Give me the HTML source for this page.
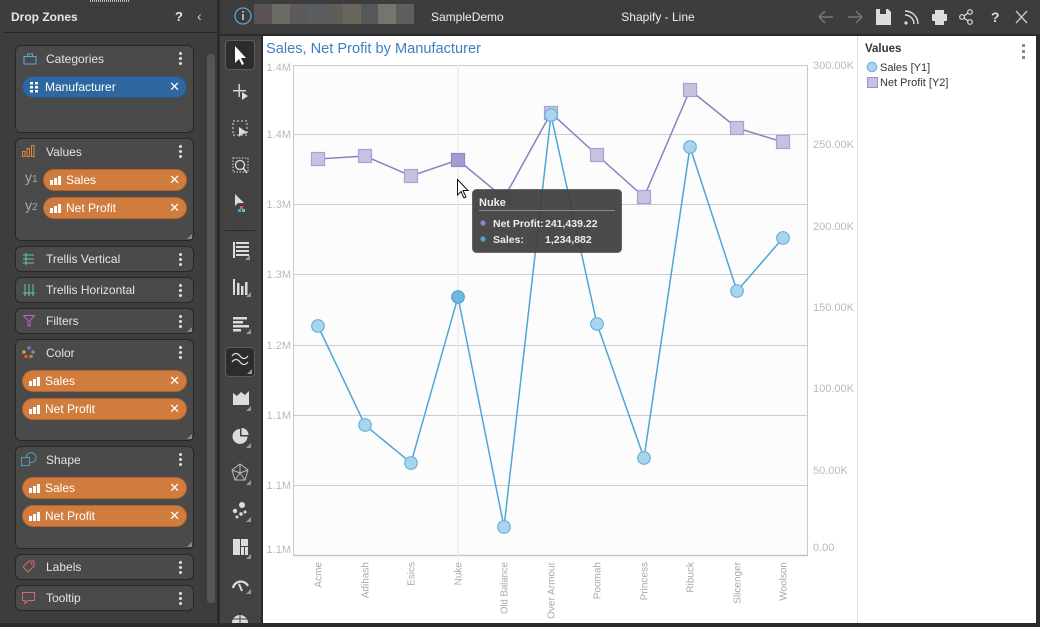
<!DOCTYPE html>
<html><head><meta charset="utf-8">
<style>
*{margin:0;padding:0;box-sizing:border-box}
body{width:1040px;height:627px;background:#2b2b2b;position:relative;overflow:hidden;font-family:"Liberation Sans",sans-serif}
.a{position:absolute}
.zone{position:absolute;left:15px;width:179px;background:#4a4a4a;border:1px solid #272727;border-radius:6px}
.zt{position:absolute;left:30px;font-size:12px;color:#e4e4e4;line-height:14px}
.keb{position:absolute;right:11px;width:3px;height:15px;background:radial-gradient(circle,#dcdcdc 1.4px,transparent 1.6px) 0 0/3px 5px repeat-y}
.pill{position:absolute;height:22px;border-radius:11px;background:#d17c3f;border:1px solid #b5622a;color:#fff;font-size:12px;line-height:20px}
.pill.blue{background:#2f68a0;border-color:#245586}
.pill .t{position:absolute;left:22px}
.pill .x{position:absolute;right:6px;top:0;font-size:13px}
.bars{position:absolute;left:6px;top:6px;width:11px;height:9px}
.bars i{position:absolute;bottom:0;width:3px;background:#fff}
.corner{position:absolute;right:1px;bottom:1px;width:0;height:0;border-left:5px solid transparent;border-bottom:5px solid #8a8a8a}
</style></head><body>

<!-- LEFT PANEL -->
<div class="a" style="left:0;top:0;width:217px;height:623px;background:#3d3d3d"></div>
<div class="a" style="left:90px;top:0;width:40px;height:2px;background:repeating-linear-gradient(90deg,#bbb 0 1px,transparent 1px 2px)"></div>
<div class="a" style="left:11px;top:10px;font-size:12px;font-weight:bold;color:#e6e6e6">Drop Zones</div>
<div class="a" style="left:175px;top:9px;font-size:13px;font-weight:bold;color:#e6e6e6">?</div>
<div class="a" style="left:197px;top:8px;font-size:14px;color:#cfcfcf">&#8249;</div>
<div class="a" style="left:3px;top:32px;width:214px;height:1px;background:#262626"></div>
<div class="a" style="left:207px;top:54px;width:8px;height:549px;background:#555;border-radius:3px"></div>

<!-- Categories -->
<div class="zone" style="top:45px;height:88px">
  <svg class="a" style="left:7px;top:7px" width="14" height="12"><rect x="1" y="3.5" width="12" height="7.5" fill="none" stroke="#5fa8d6"/><rect x="4.5" y="1" width="5" height="2.5" fill="none" stroke="#5fa8d6"/></svg>
  <div class="zt" style="top:6px">Categories</div>
  <div class="keb" style="top:5px"></div>
  <div class="pill blue" style="left:6px;top:30px;width:165px">
    <svg class="a" style="left:7px;top:5px" width="9" height="11"><g fill="#fff"><rect x="0" y="0" width="3" height="2.5"/><rect x="5" y="0" width="3" height="2.5"/><rect x="0" y="4" width="3" height="2.5"/><rect x="5" y="4" width="3" height="2.5"/><rect x="0" y="8" width="3" height="2.5"/><rect x="5" y="8" width="3" height="2.5"/></g></svg>
    <span class="t">Manufacturer</span><span class="x">✕</span></div>
</div>

<!-- Values -->
<div class="zone" style="top:138px;height:103px">
  <svg class="a" style="left:6px;top:6px" width="14" height="12"><g fill="none" stroke="#d9893f"><rect x="0.5" y="6.5" width="2.5" height="5"/><rect x="5" y="3.5" width="2.5" height="8"/><rect x="9.5" y="0.5" width="2.5" height="11"/></g></svg>
  <div class="zt" style="top:6px">Values</div>
  <div class="keb" style="top:5px"></div>
  <div class="corner"></div>
  <div class="a" style="left:9px;top:30px;font-size:14px;color:#a8a8a8">y<span style="font-size:10px">1</span></div>
  <div class="a" style="left:9px;top:58px;font-size:14px;color:#a8a8a8">y<span style="font-size:10px">2</span></div>
  <div class="pill" style="left:27px;top:30px;width:144px"><div class="bars"><i style="left:0;height:5px"></i><i style="left:4px;height:7px"></i><i style="left:8px;height:9px"></i></div><span class="t">Sales</span><span class="x">✕</span></div>
  <div class="pill" style="left:27px;top:58px;width:144px"><div class="bars"><i style="left:0;height:5px"></i><i style="left:4px;height:7px"></i><i style="left:8px;height:9px"></i></div><span class="t">Net Profit</span><span class="x">✕</span></div>
</div>

<div class="zone" style="top:246px;height:26px">
  <svg class="a" style="left:7px;top:6px" width="12" height="12"><g stroke="#5cc8b0" fill="none"><line x1="0" y1="2" x2="11" y2="2"/><line x1="0" y1="6" x2="11" y2="6"/><line x1="0" y1="10" x2="11" y2="10"/><line x1="3" y1="0" x2="3" y2="12"/></g></svg>
  <div class="zt" style="top:5px">Trellis Vertical</div><div class="keb" style="top:5px"></div></div>
<div class="zone" style="top:277px;height:26px">
  <svg class="a" style="left:7px;top:6px" width="12" height="12"><g stroke="#5cc8b0" fill="none"><line x1="2" y1="0" x2="2" y2="12"/><line x1="6" y1="0" x2="6" y2="12"/><line x1="10" y1="0" x2="10" y2="12"/><line x1="0" y1="9" x2="12" y2="9"/></g></svg>
  <div class="zt" style="top:5px">Trellis Horizontal</div><div class="keb" style="top:5px"></div></div>
<div class="zone" style="top:308px;height:26px">
  <svg class="a" style="left:7px;top:6px" width="12" height="12"><path d="M0.5 0.5h11l-4.5 5v6l-2-1.5v-4.5z" fill="none" stroke="#c35fc8"/></svg>
  <div class="zt" style="top:5px">Filters</div><div class="keb" style="top:5px"></div><div class="corner"></div></div>

<!-- Color -->
<div class="zone" style="top:339px;height:102px">
  <svg class="a" style="left:6px;top:6px" width="14" height="12"><circle cx="7" cy="2" r="1.8" fill="#8c6cc4"/><circle cx="2" cy="6" r="1.8" fill="#d8a03c"/><circle cx="11" cy="6" r="1.8" fill="#4aa3d3"/><circle cx="4" cy="10.5" r="1.8" fill="#d85a4a"/><circle cx="9" cy="10.5" r="1.8" fill="#d17c3f"/></svg>
  <div class="zt" style="top:6px">Color</div><div class="keb" style="top:5px"></div><div class="corner"></div>
  <div class="pill" style="left:6px;top:30px;width:165px"><div class="bars"><i style="left:0;height:5px"></i><i style="left:4px;height:7px"></i><i style="left:8px;height:9px"></i></div><span class="t">Sales</span><span class="x">✕</span></div>
  <div class="pill" style="left:6px;top:58px;width:165px"><div class="bars"><i style="left:0;height:5px"></i><i style="left:4px;height:7px"></i><i style="left:8px;height:9px"></i></div><span class="t">Net Profit</span><span class="x">✕</span></div>
</div>

<!-- Shape -->
<div class="zone" style="top:446px;height:103px">
  <svg class="a" style="left:5px;top:5px" width="16" height="15"><rect x="0.5" y="5.5" width="8" height="8" fill="none" stroke="#4fa0b0"/><path d="M5 5.5 a5 5 0 1 1 4 5" fill="none" stroke="#4fa0b0"/></svg>
  <div class="zt" style="top:6px">Shape</div><div class="keb" style="top:5px"></div><div class="corner"></div>
  <div class="pill" style="left:6px;top:30px;width:165px"><div class="bars"><i style="left:0;height:5px"></i><i style="left:4px;height:7px"></i><i style="left:8px;height:9px"></i></div><span class="t">Sales</span><span class="x">✕</span></div>
  <div class="pill" style="left:6px;top:58px;width:165px"><div class="bars"><i style="left:0;height:5px"></i><i style="left:4px;height:7px"></i><i style="left:8px;height:9px"></i></div><span class="t">Net Profit</span><span class="x">✕</span></div>
</div>

<div class="zone" style="top:554px;height:26px">
  <svg class="a" style="left:6px;top:5px" width="14" height="14"><path d="M1 7 L7 1 H12 V6 L6 12 Z" fill="none" stroke="#d86a6a"/><circle cx="9.5" cy="3.5" r="1" fill="#d86a6a"/></svg>
  <div class="zt" style="top:5px">Labels</div><div class="keb" style="top:5px"></div></div>
<div class="zone" style="top:585px;height:26px">
  <svg class="a" style="left:6px;top:6px" width="14" height="13"><path d="M0.5 0.5 H12.5 V8.5 H6 L3 11.5 V8.5 H0.5 Z" fill="none" stroke="#d86a6a"/></svg>
  <div class="zt" style="top:5px">Tooltip</div><div class="keb" style="top:5px"></div></div>

<!-- TOP BAR -->
<div class="a" style="left:220px;top:0;width:820px;height:34px;background:#3d3d3d"></div>
<svg class="a" style="left:233px;top:6px" width="20" height="20"><circle cx="10" cy="10" r="8" fill="none" stroke="#5fa3d4" stroke-width="1.3"/><rect x="9.3" y="8" width="1.4" height="6" fill="#ddd"/><rect x="9.3" y="5" width="1.4" height="1.6" fill="#ddd"/></svg>
<div class="a" style="left:254px;top:4px;width:160px;height:20px;display:flex">
  <div style="flex:1;background:#5a5255"></div><div style="flex:1;background:#6a6b65"></div><div style="flex:1;background:#5d585c"></div><div style="flex:1;background:#585d60"></div><div style="flex:1;background:#5d5e57"></div><div style="flex:1;background:#6b665b"></div><div style="flex:1;background:#555858"></div><div style="flex:1;background:#74756c"></div><div style="flex:1;background:#5e5e5e"></div>
</div>
<div class="a" style="left:431px;top:10px;font-size:12px;color:#eee">SampleDemo</div>
<div class="a" style="left:620px;top:10px;width:76px;text-align:center;font-size:12px;color:#eee">Shapify - Line</div>
<svg class="a" style="left:815px;top:6px" width="222" height="22">
  <g stroke="#777" stroke-width="1.5" fill="none"><path d="M4 11 H18 M4 11 L10 5 M4 11 L10 17"/><path d="M33 11 H47 M47 11 L41 5 M47 11 L41 17"/></g>
  <path d="M61 3 H73 L76 6 V19 H61 Z" fill="#ddd"/><rect x="65" y="3" width="6" height="5" fill="#3d3d3d"/>
  <g fill="none" stroke="#ddd" stroke-width="1.4"><path d="M90 9 a9 9 0 0 1 9 9"/><path d="M90 5 a13 13 0 0 1 13 13"/></g><circle cx="91" cy="17" r="1.6" fill="#ddd"/>
  <rect x="120" y="4" width="9" height="4" fill="#ddd"/><rect x="117" y="8" width="15" height="7" rx="1" fill="#ddd"/><rect x="120" y="14" width="9" height="5" fill="#ddd"/>
  <g fill="none" stroke="#ddd" stroke-width="1.2"><circle cx="147" cy="11" r="2.3"/><circle cx="155" cy="6" r="2.3"/><circle cx="155" cy="16" r="2.3"/><path d="M149 10 L153 7 M149 12 L153 15"/></g>
  <text x="176" y="16" font-family="Liberation Sans" font-size="14" font-weight="bold" fill="#ddd">?</text>
  <path d="M201 5 L212 17 M212 5 L201 17" stroke="#ccc" stroke-width="1.3"/>
</svg>

<!-- TOOLBAR -->
<div class="a" style="left:220px;top:36px;width:41px;height:587px;background:#434343"></div>
<div class="a" style="left:225px;top:40px;width:30px;height:30px;background:#2c2c2c;border:1px solid #5c5c5c;border-radius:4px"></div>
<div class="a" style="left:225px;top:347px;width:30px;height:30px;background:#2c2c2c;border:1px solid #5c5c5c;border-radius:4px"></div>
<div class="a" style="left:225px;top:230px;width:30px;height:1px;background:#2a2a2a"></div>
<svg class="a" style="left:220px;top:36px" width="41" height="587">
  <g fill="#dcdcdc" stroke="none">
    <path d="M15 10 L15 27 L19 23 L22 29 L24 28 L21 22 L26 22 Z" fill="#fff"/>
    <rect x="13" y="54" width="13" height="1.4"/><rect x="18.5" y="48" width="1.4" height="13"/><path d="M22 56 L22 64 L28 60 Z"/>
    <rect x="13" y="85" width="14" height="14" fill="none" stroke="#dcdcdc" stroke-dasharray="2 2"/><path d="M19 91 L19 101 L22 98 L28 97 Z"/>
    <rect x="13" y="122" width="15" height="14" fill="none" stroke="#dcdcdc" stroke-dasharray="1.5 1.5"/><circle cx="20" cy="129" r="4.5" fill="none" stroke="#dcdcdc" stroke-width="1.3"/><path d="M23 132 L27 137" stroke="#dcdcdc" stroke-width="1.5"/>
    <path d="M15 158 L15 170 L18 167 L24 167 Z"/><rect x="20" y="170" width="3" height="3" fill="#d85a4a"/><rect x="18" y="173" width="3" height="3" fill="#4aa3d3"/><rect x="22" y="173" width="3" height="3" fill="#5cc8b0"/>
    <g><rect x="13" y="206" width="2" height="16"/><rect x="16" y="206" width="13" height="2"/><rect x="16" y="210" width="13" height="2"/><rect x="16" y="214" width="13" height="2"/><rect x="16" y="218" width="13" height="2"/></g><path d="M30 219 L30 224 L25 224 Z" fill="#999"/>
    <rect x="13" y="243" width="2" height="16"/><rect x="17" y="247" width="2.5" height="12"/><rect x="21" y="250" width="2.5" height="9"/><rect x="25" y="246" width="2.5" height="13"/><path d="M31 256 L31 261 L26 261 Z" fill="#999"/>
    <rect x="13" y="281" width="14" height="2.5"/><rect x="13" y="285" width="10" height="2.5"/><rect x="13" y="289" width="16" height="2.5"/><rect x="13" y="293" width="8" height="2.5"/><path d="M31 293 L31 298 L26 298 Z" fill="#999"/>
    <path d="M12 320 q4 -5 8 0 t8 0 M12 326 q4 -5 8 0 t8 0" fill="none" stroke="#dcdcdc" stroke-width="1.3"/><path d="M32 333 L32 338 L27 338 Z" fill="#999"/>
    <path d="M13 357 L17 360 L21 356 L25 359 L29 355 L29 369 L13 369 Z"/><path d="M31 370 L31 375 L26 375 Z" fill="#999"/>
    <path d="M20 393 A7.5 7.5 0 1 0 27.5 400.5 L20 400.5 Z"/><path d="M21.5 392 A7 7 0 0 1 28.5 399 L21.5 399 Z"/><path d="M31 407 L31 412 L26 412 Z" fill="#999"/>
    <path d="M20 428 L28 434 L25 444 L15 444 L12 434 Z M20 428 L20 437 M28 434 L20 437 M25 444 L20 437 M15 444 L20 437 M12 434 L20 437" fill="none" stroke="#bbb" stroke-width="1"/><path d="M31 444 L31 449 L26 449 Z" fill="#999"/>
    <circle cx="22" cy="469" r="3"/><circle cx="15" cy="475" r="2.2"/><circle cx="21" cy="478" r="1.8"/><circle cx="25" cy="476" r="1.5"/><circle cx="17" cy="481" r="1.5"/><path d="M31 481 L31 486 L26 486 Z" fill="#999"/>
    <rect x="13" y="503" width="7" height="16"/><rect x="21" y="503" width="7" height="7"/><rect x="21" y="511" width="3" height="8"/><rect x="25" y="511" width="3" height="8"/><path d="M31 518 L31 523 L26 523 Z" fill="#999"/>
    <path d="M13 552 A8 8 0 0 1 28 550" fill="none" stroke="#dcdcdc" stroke-width="2.2"/><path d="M19 548 L22 555" stroke="#dcdcdc" stroke-width="2"/><path d="M31 553 L31 558 L26 558 Z" fill="#999"/>
    <path d="M12 587 A8 8 0 0 1 28 587 Z"/><path d="M20 579 V587 M13 583 H27" stroke="#434343" stroke-width="1"/>
  </g>
</svg>

<!-- CHART AREA -->
<div class="a" style="left:263px;top:36px;width:773px;height:587px;background:#fff"></div>
<div class="a" style="left:857px;top:36px;width:1px;height:587px;background:#dedede"></div>

<svg class="a" style="left:0;top:0" width="1040" height="627" font-family="Liberation Sans, sans-serif">
  <text x="266" y="53" font-size="14.6" fill="#3d7fbf">Sales, Net Profit by Manufacturer</text>
  <rect x="293" y="65" width="515" height="491" fill="#fcfcfc"/>
  <g stroke="#cccccc" stroke-width="1">
    <line x1="293" y1="65.5" x2="808" y2="65.5"/>
    <line x1="293" y1="134.5" x2="808" y2="134.5"/>
    <line x1="293" y1="204.5" x2="808" y2="204.5"/>
    <line x1="293" y1="274.5" x2="808" y2="274.5"/>
    <line x1="293" y1="345.5" x2="808" y2="345.5"/>
    <line x1="293" y1="415.5" x2="808" y2="415.5"/>
    <line x1="293" y1="485.5" x2="808" y2="485.5"/>
  </g>
  <line x1="293.5" y1="65" x2="293.5" y2="556" stroke="#c8c8c8"/>
  <line x1="807.5" y1="65" x2="807.5" y2="556" stroke="#c8c8c8"/>
  <line x1="293" y1="555.5" x2="808" y2="555.5" stroke="#c4c4c4" stroke-width="1.5"/>
  <line x1="458" y1="65" x2="458" y2="562" stroke="#ececec" stroke-width="1.5"/>

  <g font-size="11" fill="#c2b8ae" text-anchor="end">
    <text x="291" y="71">1.4M</text>
    <text x="291" y="138">1.4M</text>
    <text x="291" y="208">1.3M</text>
    <text x="291" y="278">1.3M</text>
    <text x="291" y="349">1.2M</text>
    <text x="291" y="419">1.1M</text>
    <text x="291" y="489">1.1M</text>
    <text x="291" y="553">1.1M</text>
  </g>
  <g font-size="11" fill="#c2b8ae">
    <text x="813" y="69">300.00K</text>
    <text x="813" y="148">250.00K</text>
    <text x="813" y="230">200.00K</text>
    <text x="813" y="311">150.00K</text>
    <text x="813" y="392">100.00K</text>
    <text x="813" y="474">50.00K</text>
    <text x="813" y="551">0.00</text>
  </g>
  <g font-size="10" fill="#a9a9a9" text-anchor="end">
    <text transform="translate(321.5,562) rotate(-90)">Acme</text>
    <text transform="translate(368.5,562) rotate(-90)">Adihash</text>
    <text transform="translate(414.5,562) rotate(-90)">Esics</text>
    <text transform="translate(461.5,562) rotate(-90)">Nuke</text>
    <text transform="translate(507.5,562) rotate(-90)" textLength="52" lengthAdjust="spacingAndGlyphs">Old Balance</text>
    <text transform="translate(554.5,562) rotate(-90)" textLength="57" lengthAdjust="spacingAndGlyphs">Over Armour</text>
    <text transform="translate(600.5,562) rotate(-90)">Poomah</text>
    <text transform="translate(647.5,562) rotate(-90)">Princess</text>
    <text transform="translate(693.5,562) rotate(-90)">Ribuck</text>
    <text transform="translate(740.5,562) rotate(-90)">Slicenger</text>
    <text transform="translate(786.5,562) rotate(-90)">Woolson</text>
  </g>

  <!-- Net Profit -->
  <polyline points="318,159 365,156 411,176 458,160 504,198 551,113 597,155 644,197 690,90 737,128 783,142" fill="none" stroke="#8b7fc0" stroke-width="1.5"/>
  <g fill="#c9c1e2" stroke="#ab9fd4" stroke-width="1.2">
    <rect x="311.5" y="152.5" width="13" height="13"/>
    <rect x="358.5" y="149.5" width="13" height="13"/>
    <rect x="404.5" y="169.5" width="13" height="13"/>
    <rect x="451.5" y="153.5" width="13" height="13" fill="#a79ad2" stroke="#9486c8"/>
    <rect x="497.5" y="191.5" width="13" height="13"/>
    <rect x="544.5" y="106.5" width="13" height="13"/>
    <rect x="590.5" y="148.5" width="13" height="13"/>
    <rect x="637.5" y="190.5" width="13" height="13"/>
    <rect x="683.5" y="83.5" width="13" height="13"/>
    <rect x="730.5" y="121.5" width="13" height="13"/>
    <rect x="776.5" y="135.5" width="13" height="13"/>
  </g>
  <!-- Sales -->
  <polyline points="318,326 365,425 411,463 458,297 504,527 551,115 597,324 644,458 690,147 737,291 783,238" fill="none" stroke="#4ea6d6" stroke-width="1.5"/>
  <g fill="#a9d4ee" stroke="#68b2dc" stroke-width="1.2">
    <circle cx="318" cy="326" r="6.3"/>
    <circle cx="365" cy="425" r="6.3"/>
    <circle cx="411" cy="463" r="6.3"/>
    <circle cx="458" cy="297" r="6.3" fill="#6fb6e0" stroke="#4ea6d6"/>
    <circle cx="504" cy="527" r="6.3"/>
    <circle cx="551" cy="115" r="6.3"/>
    <circle cx="597" cy="324" r="6.3"/>
    <circle cx="644" cy="458" r="6.3"/>
    <circle cx="690" cy="147" r="6.3"/>
    <circle cx="737" cy="291" r="6.3"/>
    <circle cx="783" cy="238" r="6.3"/>
  </g>

  <!-- Tooltip -->
  <rect x="472.5" y="189.5" width="149" height="63" rx="4" fill="#3d3d3d" fill-opacity="0.93" stroke="#555" stroke-width="0.8"/>
  <text x="479" y="206" font-size="11" font-weight="bold" fill="#eee">Nuke</text>
  <line x1="479" y1="210.5" x2="615" y2="210.5" stroke="#8a8a8a"/>
  <circle cx="483" cy="223" r="2.6" fill="#9287c6"/>
  <circle cx="483" cy="239" r="2.6" fill="#4ea6d6"/>
  <g font-size="10.5" font-weight="bold" fill="#eee">
    <text x="493" y="227">Net Profit:</text>
    <text x="545" y="227">241,439.22</text>
    <text x="493" y="243">Sales:</text>
    <text x="545" y="243">1,234,882</text>
  </g>

  <!-- Cursor -->
  <path d="M457.5 179.5 L457.5 195 L461 191.5 L464 198 L466 197 L463 190.5 L468 190.5 Z" fill="#fff" stroke="#111" stroke-width="1"/>

  <!-- Legend -->
  <text x="865" y="52" font-size="11.5" font-weight="bold" fill="#333">Values</text>
  <g fill="#8a8a8a"><rect x="1022" y="44" width="3" height="3"/><rect x="1022" y="50" width="3" height="3"/><rect x="1022" y="56" width="3" height="3"/></g>
  <circle cx="872" cy="67" r="4.8" fill="#a9d4ee" stroke="#68b2dc"/>
  <text x="880" y="71" font-size="11" fill="#333">Sales [Y1]</text>
  <rect x="867.5" y="77.5" width="10" height="10" fill="#c9c1e2" stroke="#9d91cc"/>
  <text x="880" y="86" font-size="11" fill="#333">Net Profit [Y2]</text>
</svg>
</body></html>
